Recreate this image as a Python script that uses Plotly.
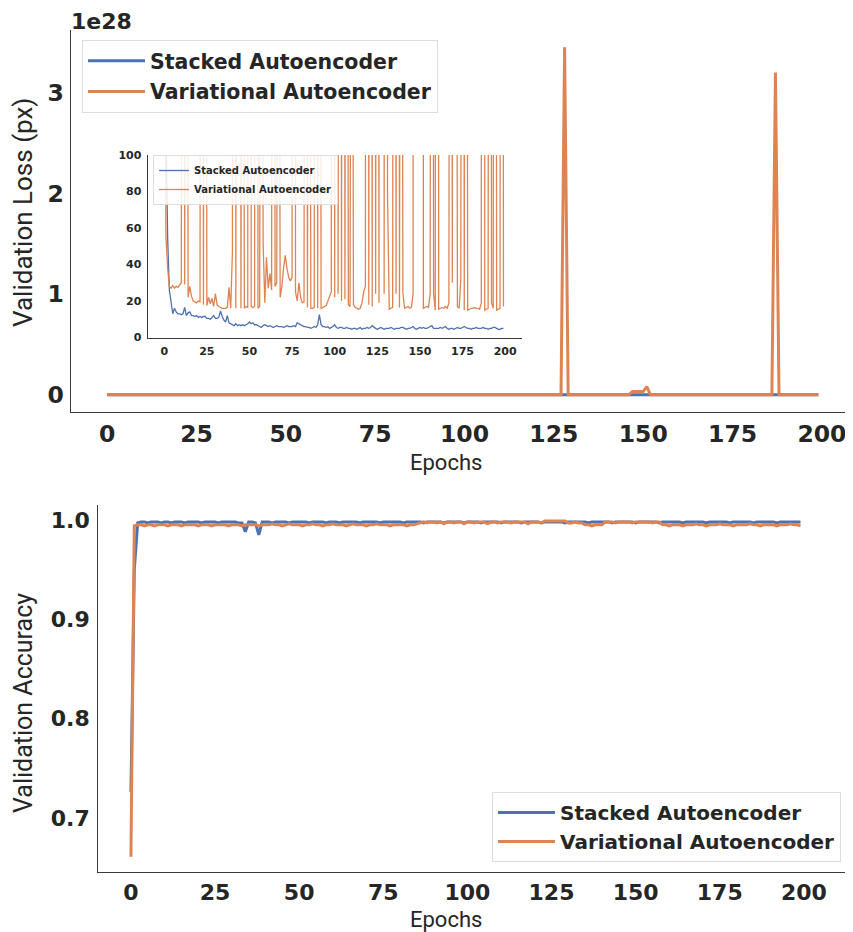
import plotly.graph_objects as go

epochs = list(range(200))

sae_loss = [
    180, 105, 55, 26, 19, 13, 16, 14, 13, 13,
    12.5, 13, 16.5, 12, 13.5, 14, 12, 12, 11.5, 12,
    11, 11.5, 11, 11.5, 11.5, 10.5, 10.5, 10, 11, 12,
    10.5, 10.5, 11, 14.5, 11.5, 9.5, 8.5, 12, 8, 7.5,
    7, 6.5, 7.5, 6.5, 7, 6.5, 7, 6.5, 7, 7.5,
    8.5, 7.5, 8, 7, 7, 6.5, 6, 5.5, 6.5, 7,
    6.5, 6, 6.5, 6, 5.5, 6, 6.5, 6, 6, 6,
    5.5, 6, 6.5, 6, 6, 6, 6.5, 6, 8, 7.5,
    7, 6.5, 6, 6, 5.5, 5.5, 5, 5.5, 6, 5.5,
    7, 12.5, 7, 6, 6, 5.5, 6, 5, 5.5, 6,
    7, 5.5, 5, 5.5, 5.5, 5, 5, 5.5, 5, 5,
    4.5, 5, 5, 4.5, 5, 5.5, 4.5, 5, 5, 5.5,
    5, 5.5, 6.5, 5.5, 5, 4.5, 5, 5.5, 5, 4.5,
    5, 5, 5, 5.5, 5, 4.5, 5, 5, 5, 5.5,
    5.5, 5, 4.5, 5, 5, 5.5, 6, 5, 4.5, 5,
    5.5, 5, 5.5, 5, 5, 5.5, 6, 6.5, 5, 5,
    5, 5, 5.5, 5, 5.5, 6, 5, 4.5, 5, 5,
    4.5, 5, 5.5, 5, 5, 5.5, 6, 5.5, 5, 5,
    4.5, 5, 5, 5.5, 5, 5, 5, 5.5, 5, 5,
    4.5, 5, 5, 5.5, 5.5, 5, 4.5, 4.5, 5, 5,
]

vae_loss = [
    260, 55, 38, 28, 27, 28.5, 27, 28, 27.5, 29,
    30, 870, 29, 640, 22, 28, 22.5, 20, 19.5, 19,
    20, 19.5, 1200, 18, 950, 17.5, 22, 18.5, 21.5, 17,
    24, 18, 17, 16.5, 16, 16, 16, 16.5, 27.5, 16,
    47, 2300, 16, 780, 1500, 16, 520, 16, 17, 16.5,
    3100, 17, 16.5, 17, 1800, 16, 17, 690, 52, 19,
    44, 27, 35, 26, 1100, 28, 30, 410, 22, 28,
    38, 45, 38, 33, 31, 33, 2600, 25, 20, 30,
    22, 19, 19.5, 730, 16.5, 560, 16, 16, 16.5, 1400,
    16, 880, 16, 16.5, 17, 17.5, 20, 23, 25, 1900,
    22, 1300, 24, 970, 20, 1650, 21, 640, 18, 17,
    470, 18, 16.5, 16, 15.5, 16, 19, 25, 28, 2200,
    18, 1100, 17, 1700, 24, 830, 19, 600, 3.45e28, 24,
    1350, 77, 15.5, 16, 16.5, 990, 24, 1500, 16.5, 720,
    24.5, 16, 16.5, 17, 16, 16.5, 24, 3.0e26, 3.0e26, 3.0e26,
    3.0e26, 8.0e26, 16, 16.5, 17, 16.5, 24, 1200, 24, 15,
    2600, 15.5, 16, 16.5, 16, 17, 16, 19, 890, 30,
    1500, 560, 17, 16, 32, 1250, 15, 820, 15, 15.5,
    16, 16, 16.5, 16, 16, 15.5, 19, 3.2e28, 15, 15.5,
    16, 1150, 19, 16, 940, 15, 15.5, 16, 1700, 17,
]

sae_acc = [
    0.726, 0.950, 0.997, 0.998, 0.998, 0.997, 0.998, 0.998, 0.998, 0.997,
    0.998, 0.998, 0.997, 0.998, 0.998, 0.998, 0.997, 0.998, 0.998, 0.998,
    0.998, 0.997, 0.998, 0.998, 0.998, 0.998, 0.997, 0.998, 0.998, 0.998,
    0.998, 0.998, 0.997, 0.997, 0.988, 0.998, 0.998, 0.997, 0.985, 0.998,
    0.998, 0.998, 0.997, 0.998, 0.998, 0.998, 0.998, 0.997, 0.998, 0.998,
    0.998, 0.998, 0.998, 0.997, 0.998, 0.998, 0.998, 0.998, 0.997, 0.998,
    0.998, 0.998, 0.997, 0.998, 0.998, 0.998, 0.998, 0.998, 0.997, 0.998,
    0.998, 0.998, 0.998, 0.998, 0.997, 0.998, 0.998, 0.998, 0.998, 0.998,
    0.998, 0.997, 0.998, 0.998, 0.998, 0.998, 0.998, 0.997, 0.998, 0.998,
    0.998, 0.998, 0.998, 0.997, 0.998, 0.998, 0.998, 0.998, 0.998, 0.997,
    0.998, 0.998, 0.998, 0.998, 0.997, 0.998, 0.998, 0.998, 0.998, 0.998,
    0.997, 0.998, 0.998, 0.998, 0.998, 0.998, 0.997, 0.998, 0.998, 0.998,
    0.998, 0.998, 0.997, 0.998, 0.998, 0.998, 0.998, 0.998, 0.998, 0.997,
    0.998, 0.998, 0.998, 0.998, 0.998, 0.998, 0.997, 0.998, 0.998, 0.998,
    0.998, 0.998, 0.998, 0.997, 0.998, 0.998, 0.998, 0.998, 0.998, 0.998,
    0.997, 0.998, 0.998, 0.998, 0.998, 0.998, 0.998, 0.997, 0.998, 0.998,
    0.998, 0.998, 0.998, 0.998, 0.997, 0.998, 0.998, 0.998, 0.998, 0.998,
    0.998, 0.997, 0.998, 0.998, 0.998, 0.998, 0.998, 0.998, 0.997, 0.998,
    0.998, 0.998, 0.998, 0.998, 0.998, 0.997, 0.998, 0.998, 0.998, 0.998,
    0.998, 0.998, 0.997, 0.998, 0.998, 0.998, 0.998, 0.998, 0.998, 0.998,
]

vae_acc = [
    0.661, 0.994, 0.995, 0.995, 0.994, 0.995, 0.995, 0.994, 0.995, 0.995,
    0.995, 0.994, 0.995, 0.995, 0.995, 0.994, 0.995, 0.995, 0.995, 0.995,
    0.994, 0.995, 0.995, 0.995, 0.994, 0.995, 0.995, 0.995, 0.995, 0.994,
    0.995, 0.995, 0.995, 0.994, 0.995, 0.995, 0.995, 0.995, 0.994, 0.995,
    0.995, 0.995, 0.996, 0.995, 0.995, 0.994, 0.995, 0.996, 0.995, 0.995,
    0.995, 0.994, 0.995, 0.995, 0.996, 0.995, 0.995, 0.994, 0.995, 0.995,
    0.996, 0.995, 0.995, 0.995, 0.994, 0.995, 0.996, 0.995, 0.995, 0.995,
    0.994, 0.995, 0.995, 0.996, 0.995, 0.995, 0.995, 0.994, 0.995, 0.995,
    0.995, 0.995, 0.994, 0.995, 0.995, 0.996, 0.997, 0.998, 0.997, 0.998,
    0.998, 0.997, 0.998, 0.996, 0.998, 0.998, 0.997, 0.998, 0.998, 0.996,
    0.998, 0.998, 0.997, 0.998, 0.998, 0.998, 0.996, 0.998, 0.998, 0.997,
    0.998, 0.998, 0.998, 0.997, 0.998, 0.998, 0.998, 0.998, 0.996, 0.998,
    0.998, 0.998, 0.997, 0.999, 0.999, 0.999, 0.999, 0.999, 0.999, 0.999,
    0.997, 0.997, 0.998, 0.997, 0.997, 0.995, 0.995, 0.994, 0.995, 0.995,
    0.995, 0.998, 0.998, 0.998, 0.997, 0.998, 0.998, 0.998, 0.998, 0.997,
    0.998, 0.998, 0.998, 0.998, 0.998, 0.997, 0.998, 0.998, 0.995, 0.995,
    0.994, 0.995, 0.995, 0.995, 0.994, 0.995, 0.995, 0.995, 0.996, 0.995,
    0.995, 0.994, 0.995, 0.995, 0.995, 0.996, 0.995, 0.995, 0.995, 0.994,
    0.995, 0.995, 0.995, 0.995, 0.996, 0.995, 0.995, 0.994, 0.995, 0.995,
    0.995, 0.995, 0.994, 0.995, 0.995, 0.995, 0.996, 0.995, 0.995, 0.994,
]

names = ["Stacked Autoencoder", "Variational Autoencoder"]
BLUE = "#4C72B0"
ORANGE = "#DD8452"
TXT = "#262626"

# the page body has an 8px margin, so the figure is sized to fit the window
OFF = 8
W, H = 853 - OFF, 932 - OFF

def px_x(v):
    return (v - OFF) / W

def px_y(v):
    return 1 - (v - OFF) / H

fig = go.Figure()

# main loss plot
fig.add_trace(go.Scatter(x=epochs, y=sae_loss, mode="lines", name=names[0],
                         line=dict(color=BLUE, width=3), xaxis="x", yaxis="y",
                         legend="legend", legendgroup="m1"))
fig.add_trace(go.Scatter(x=epochs, y=vae_loss, mode="lines", name=names[1],
                         line=dict(color=ORANGE, width=3), xaxis="x", yaxis="y",
                         legend="legend", legendgroup="m2"))
# inset
fig.add_trace(go.Scatter(x=epochs, y=sae_loss, mode="lines", name=names[0],
                         line=dict(color=BLUE, width=1.3), xaxis="x2", yaxis="y2",
                         legend="legend2", legendgroup="i1"))
fig.add_trace(go.Scatter(x=epochs, y=vae_loss, mode="lines", name=names[1],
                         line=dict(color=ORANGE, width=1.3), xaxis="x2", yaxis="y2",
                         legend="legend2", legendgroup="i2"))
# accuracy
fig.add_trace(go.Scatter(x=epochs, y=sae_acc, mode="lines", name=names[0],
                         line=dict(color=BLUE, width=3), xaxis="x3", yaxis="y3",
                         legend="legend3", legendgroup="a1"))
fig.add_trace(go.Scatter(x=epochs, y=vae_acc, mode="lines", name=names[1],
                         line=dict(color=ORANGE, width=3), xaxis="x3", yaxis="y3",
                         legend="legend3", legendgroup="a2"))

tick_big = dict(family="DejaVu Sans", size=23.5, color=TXT, weight="bold")
tick_acc = dict(family="DejaVu Sans", size=22, color=TXT, weight="bold")
tick_small = dict(family="DejaVu Sans", size=11, color=TXT, weight="bold")

axis_common = dict(showline=True, linecolor="#3a3a3a", linewidth=1.3, showgrid=False,
                   zeroline=False, ticks="outside", tickcolor="rgba(0,0,0,0)",
                   automargin=False)

fig.update_layout(
    width=W, height=H,
    margin=dict(l=0, r=0, t=0, b=0),
    paper_bgcolor="white", plot_bgcolor="rgba(0,0,0,0)",
    xaxis=dict(domain=[px_x(70.7), 1.0], anchor="y", range=[-10.2, 208.7],
               tickvals=[0, 25, 50, 75, 100, 125, 150, 175, 200], tickfont=tick_big,
               ticklen=1, **axis_common),
    yaxis=dict(domain=[px_y(412), px_y(30)], anchor="x", range=[-0.1725e28, 3.6225e28],
               tickvals=[0, 1e28, 2e28, 3e28], ticktext=["0", "1", "2", "3"],
               tickfont=tick_big, ticklen=1, **axis_common),
    xaxis2=dict(domain=[px_x(147.7), px_x(521.7)], anchor="y2", range=[-9.7, 209.7],
                tickvals=[0, 25, 50, 75, 100, 125, 150, 175, 200], tickfont=tick_small,
                ticklen=3, **axis_common),
    yaxis2=dict(domain=[px_y(337.5), px_y(155)], anchor="x2", range=[0, 100],
                tickvals=[0, 20, 40, 60, 80, 100], tickfont=tick_small, ticklen=3,
                **axis_common),
    xaxis3=dict(domain=[px_x(98.3), 1.0], anchor="y3", range=[-9.7, 214.6],
                tickvals=[0, 25, 50, 75, 100, 125, 150, 175, 200], tickfont=tick_acc,
                ticklen=0, **axis_common),
    yaxis3=dict(domain=[px_y(872), px_y(505)], anchor="x3", range=[0.6456, 1.015],
                tickvals=[0.7, 0.8, 0.9, 1.0], tickformat=".1f", tickfont=tick_acc,
                ticklen=3, **axis_common),
    legend=dict(x=px_x(82), y=px_y(40), xanchor="left", yanchor="top",
                bgcolor="rgba(255,255,255,0.85)", bordercolor="#dddddd", borderwidth=1,
                font=dict(family="DejaVu Sans", size=20.5, color=TXT, weight="bold"),
                tracegroupgap=1, itemwidth=57),
    legend2=dict(x=px_x(153), y=px_y(155), xanchor="left", yanchor="top",
                 bgcolor="rgba(255,255,255,0.85)", bordercolor="#dddddd", borderwidth=1,
                 font=dict(family="DejaVu Sans", size=10, color=TXT, weight="bold"),
                 tracegroupgap=0),
    legend3=dict(x=px_x(492), y=px_y(862), xanchor="left", yanchor="bottom",
                 bgcolor="rgba(255,255,255,0.85)", bordercolor="#dddddd", borderwidth=1,
                 font=dict(family="DejaVu Sans", size=20, color=TXT, weight="bold"),
                 tracegroupgap=0, itemwidth=57),
    showlegend=True,
)

fig.add_annotation(text="1e28", x=px_x(70), y=1.0, xref="paper", yref="paper",
                   xanchor="left", yanchor="top", showarrow=False, borderpad=0,
                   font=dict(family="DejaVu Sans", size=22, color=TXT, weight="bold"))
fig.add_annotation(text="Validation Loss (px)", x=px_x(23), y=px_y(213), xref="paper",
                   yref="paper", xanchor="center", yanchor="middle", textangle=-90,
                   showarrow=False, font=dict(family="Roboto", size=26, color=TXT))
fig.add_annotation(text="Epochs", x=px_x(446), y=px_y(462), xref="paper", yref="paper",
                   xanchor="center", yanchor="middle", showarrow=False,
                   font=dict(family="Roboto", size=22, color=TXT))
fig.add_annotation(text="Validation Accuracy", x=px_x(23), y=px_y(703), xref="paper",
                   yref="paper", xanchor="center", yanchor="middle", textangle=-90,
                   showarrow=False, font=dict(family="Roboto", size=25, color=TXT))
fig.add_annotation(text="Epochs", x=px_x(446), y=px_y(919), xref="paper", yref="paper",
                   xanchor="center", yanchor="middle", showarrow=False,
                   font=dict(family="Roboto", size=22, color=TXT))

fig.write_html("out.html")
